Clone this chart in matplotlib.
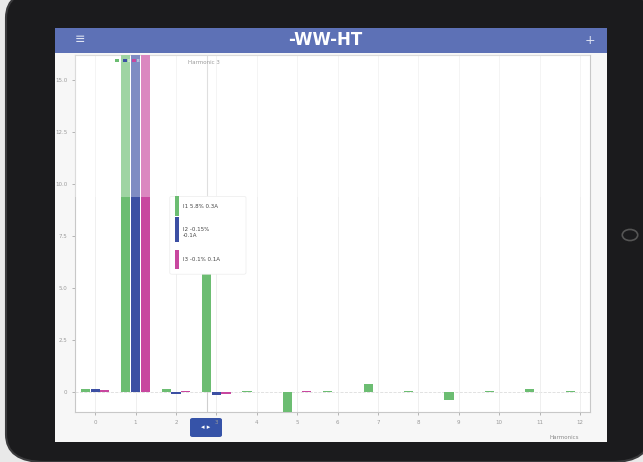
import numpy as np
import matplotlib.pyplot as plt
from matplotlib.patches import FancyBboxPatch, Rectangle

# harmonic orders and per-phase values (% of fundamental)
harmonics = list(range(0, 13))
tick_labels = [str(h) for h in harmonics]
phase_names = ['I1', 'I2', 'I3']
i1_values = [0.15, 100, 0.15, 5.8, 0.05, -1.0, 0.05, 0.4, 0.05, -0.35, 0.05, 0.15, 0.05]
i2_values = [0.15, 100, -0.1, -0.15, 0.0, 0.0, 0.0, 0.0, 0.0, 0.0, 0.0, 0.0, 0.0]
i3_values = [0.1, 100, 0.05, -0.1, 0.0, 0.05, 0.0, 0.0, 0.0, 0.0, 0.0, 0.0, 0.0]
y_ticks = [0, 2.5, 5, 7.5, 10, 12.5, 15]
y_tick_labels = ['0', '2.5', '5.0', '7.5', '10.0', '12.5', '15.0']
tooltip_lines = ['I1 5.8% 0.3A', 'I2 -0.15%\n-0.1A', 'I3 -0.1% 0.1A']
hover_harmonic = 3

colors = ['#6cbd72', '#3c4fa3', '#c8479f']

W, H = 643, 462
fig = plt.figure(figsize=(W / 100, H / 100), dpi=100)
fig.patch.set_facecolor('#e9e9e9')

def px(x0, y0, x1, y1):
    # pixel box -> figure fraction (left, bottom, width, height)
    return x0 / W, 1 - y1 / H, (x1 - x0) / W, (y1 - y0) / H

# tablet body
l, b, w, h = px(6, -10, 650, 462)
fig.patches.append(FancyBboxPatch((l, b), w, h, boxstyle='round,pad=0,rounding_size=0.06',
                                  transform=fig.transFigure, facecolor='#1b1b1d',
                                  edgecolor='#3a3a3c', lw=1.5, zorder=0))
# screen
l, b, w, h = px(55, 28, 607, 442)
fig.patches.append(Rectangle((l, b), w, h, transform=fig.transFigure,
                             facecolor='#f7f7f7', edgecolor='none', zorder=1))
# header bar
l, b, w, h = px(55, 28, 607, 53)
fig.patches.append(Rectangle((l, b), w, h, transform=fig.transFigure,
                             facecolor='#5d71b6', edgecolor='none', zorder=2))
fig.text(80 / W, 1 - 40 / H, '≡', color='#dfe4f3', fontsize=9, ha='center', va='center', zorder=3)
fig.text(590 / W, 1 - 40 / H, '+', color='#dfe4f3', fontsize=9, ha='center', va='center', zorder=3)
fig.text(325 / W, 1 - 40 / H, '-WW-HT', color='white', fontsize=12, fontweight='bold',
         ha='center', va='center', zorder=3)
# camera
fig.patches.append(plt.Circle((630 / W, 1 - 235 / H), 0.012, transform=fig.transFigure,
                              facecolor='none', edgecolor='#555', lw=1.2, zorder=2))

ax = fig.add_axes(px(75, 55, 590, 412))
ax.set_zorder(10)
ax.set_facecolor('white')
x = np.arange(len(harmonics))
bw = 0.24
for k, vals in enumerate([i1_values, i2_values, i3_values]):
    ax.bar(x + (k - 1) * bw, vals, width=bw * 0.95, color=colors[k], zorder=3,
           label=phase_names[k])

# faded upper region of the fundamental bars
ax.axhspan(9.4, 17, color='white', alpha=0.35, lw=0, zorder=4)

ax.set_xlim(-0.5, 12.25)
ax.set_ylim(-0.95, 16.2)
ax.set_xticks(x)
ax.set_xticklabels(tick_labels)
ax.set_yticks(y_ticks)
ax.set_yticklabels(y_tick_labels)
ax.tick_params(labelsize=4, colors='#9a9a9a', length=2, width=0.5)
ax.set_xlabel('Harmonics', fontsize=4, color='#8a8a8a')
ax.xaxis.set_label_coords(0.95, -0.065)
for sp in ax.spines.values():
    sp.set_color('#c8c8c8')
    sp.set_linewidth(0.8)
ax.grid(axis='x', color='#ececec', lw=0.6, zorder=0)
ax.axhline(0, color='#dddddd', lw=0.6, ls='--', zorder=1)
ax.axvline(hover_harmonic - bw, color='#cfcfcf', lw=0.8, zorder=2)

ax.legend(loc='upper left', bbox_to_anchor=(0.07, 1.0), ncol=3, fontsize=3,
          frameon=False, handlelength=0.9, handletextpad=0.1, columnspacing=0.2,
          labelcolor='white')
ax.text(0.22, 0.985, 'Harmonic %d' % hover_harmonic, transform=ax.transAxes,
        fontsize=4, color='#666666', va='top')

# tooltip
tx, ty = 0.188, 0.39
tip = FancyBboxPatch((tx, ty), 0.14, 0.21, boxstyle='round,pad=0.004', transform=ax.transAxes,
                     facecolor='white', edgecolor='#ececec', lw=0.5, zorder=6)
ax.add_patch(tip)
offsets = [0.175, 0.1, 0.025]
for k, line in enumerate(tooltip_lines):
    ax.add_patch(Rectangle((tx + 0.006, ty + offsets[k] - 0.015), 0.007, 0.055 if k != 1 else 0.07,
                           transform=ax.transAxes, facecolor=colors[k], zorder=7))
    ax.text(tx + 0.022, ty + offsets[k] + 0.012, line, transform=ax.transAxes, fontsize=4,
            color='#444444', va='center', zorder=7, linespacing=1.2)

# navigation button
l, b, w, h = px(190, 418, 222, 437)
fig.patches.append(FancyBboxPatch((l, b), w, h, boxstyle='round,pad=0,rounding_size=0.004',
                                  transform=fig.transFigure, facecolor='#3653a8',
                                  edgecolor='none', zorder=5))
fig.text(206 / W, 1 - 427 / H, '◂ ▸', color='white', fontsize=5, ha='center', va='center', zorder=6)

fig.savefig('out.png', dpi=100, facecolor=fig.get_facecolor())
